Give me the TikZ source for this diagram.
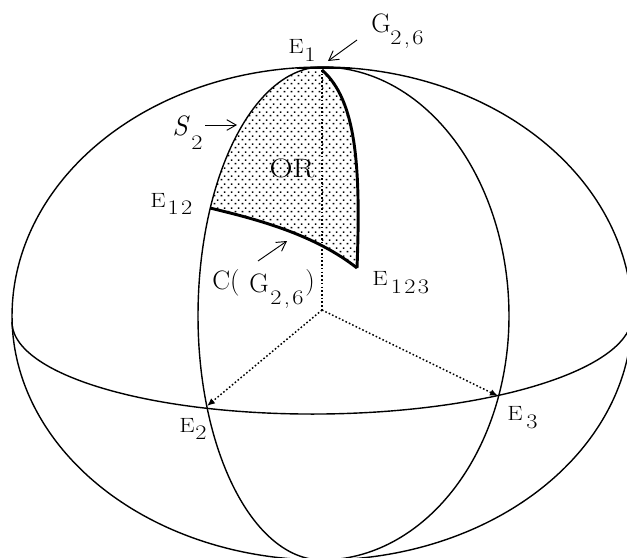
\documentclass[tikz,border=0pt]{standalone}
\usepackage{fontspec}
\usetikzlibrary{arrows.meta,patterns}
\pgfdeclarepatternformonly{stagdots}{\pgfqpoint{0pt}{0pt}}{\pgfqpoint{5pt}{6pt}}{\pgfqpoint{5pt}{6pt}}{%
  \pgfpathrectangle{\pgfqpoint{0.5pt}{0.5pt}}{\pgfqpoint{1.3pt}{1.3pt}}%
  \pgfpathrectangle{\pgfqpoint{3pt}{3.5pt}}{\pgfqpoint{1.3pt}{1.3pt}}%
  \pgfusepath{fill}}
\tikzset{
 curve/.style={draw=black,line width=1.05pt},
 heavy/.style={draw=black,line width=2.2pt},
 dotline/.style={draw=black,line width=1.1pt,dash pattern=on 1.2pt off 1.6pt},
 pointer/.style={draw=black,line width=0.7pt,-{Straight Barb[length=7pt,width=8pt]}},
 lab/.style={inner sep=0pt,xscale=1.18,font=\fontsize{15.5}{15.5}\selectfont},
 biglab/.style={inner sep=0pt,font=\fontsize{20}{20}\selectfont}
}
\begin{document}
\begin{tikzpicture}[x=0.75pt,y=-0.75pt]
\useasboundingbox (0,0) rectangle (627,557);
\coordinate (O) at (322,310);
\coordinate (E1) at (322,70);
\coordinate (E2) at (207,406);
\coordinate (E3) at (498,396);
\coordinate (E12) at (210,208);
\coordinate (E123) at (357,268);
\coordinate (Ga) at (357,40);
\coordinate (Gb) at (328,61);
\coordinate (Sa) at (205,125);
\coordinate (Sb) at (237,125);
\coordinate (Ca) at (258,261);
\coordinate (Cb) at (287,241);
\coordinate (Ta) at (297,68);
\coordinate (Tb) at (350,68);
\begin{scope}
\clip (0,0) rectangle (627,557);
% shaded region
\path[pattern=stagdots] plot[smooth,samples=30,domain=205.7:270] ({322+124*cos(\x)},{316+249*sin(\x)}) -- (E1) .. controls (356,100) and (361,165) .. (E123) .. controls (315,235) and (260,220) .. (E12) -- cycle;
% outer ellipse
\draw[curve] plot[smooth,samples=70,domain=180:360] ({322+310*cos(\x)},{316+249*sin(\x)});
\draw[curve] plot[smooth,samples=70,domain=0:180] ({322+310*cos(\x)},{316+244*sin(\x)});
% left meridian
\draw[curve] plot[smooth,samples=40,domain=180:270] ({322+124*cos(\x)},{316+249*sin(\x)});
\draw[curve] plot[smooth,samples=40,domain=90:180] ({322+124*cos(\x)},{316+244*sin(\x)});
% right meridian
\draw[curve] plot[smooth,samples=40,domain=-90:0] ({322+187*cos(\x)},{316+249*sin(\x)});
\draw[curve] plot[smooth,samples=40,domain=0:90] ({322+187*cos(\x)},{316+244*sin(\x)});
% equator
\draw[curve] plot[smooth,samples=100,domain=0:180] ({322+310*cos(\x)},{319-3*cos(\x)+95*sin(\x)});
% heavy boundary
\draw[heavy,line width=1.6pt] (Ta) -- (Tb);
\draw[heavy] (E1) .. controls (356,100) and (361,165) .. (E123);
\draw[heavy] (E12) .. controls (260,220) and (315,235) .. (E123);
\end{scope}
% dotted axes
\draw[dotline] (E1) -- (O);
\draw[dotline,-{Latex[length=6pt,width=5pt]}] (O) -- (E2);
\draw[dotline,-{Latex[length=6pt,width=5pt]}] (O) -- (E3);
% pointers
\draw[pointer] (Ga) -- (Gb);
\draw[pointer] (Sa) -- (Sb);
\draw[pointer] (Ca) -- (Cb);
% labels
\node[lab] (tE1) at (296,46) {E};
\node[lab] (tE1s) at (310,55) {1};
\node[biglab] (tG) at (381,23) {G};
\node[lab] (tGs) at (407,40) {2\hspace{1.5pt},\hspace{1.5pt}6};
\node[biglab,font=\fontsize{21}{21}\selectfont\itshape] (tS) at (180,126) {S};
\node[lab] (tSs) at (197,143) {2};
\node[inner sep=0pt,xscale=1.2,font=\fontsize{20}{20}\selectfont] (tOR) at (292,168) {OR};
\node[lab] (tE12) at (158,200) {E};
\node[lab] (tE12s) at (180,208) {1\hspace{1.5pt}2};
\node[biglab] (tC) at (226,283) {C(};
\node[biglab] (tCG) at (259,283) {G};
\node[biglab] (tCp) at (310,283) {)};
\node[lab] (tCs) at (287,300) {2\hspace{1.5pt},\hspace{1.5pt}6};
\node[lab] (tE123) at (380,278) {E};
\node[lab] (tE123s) at (410,287) {1\hspace{1.5pt}2\hspace{1.5pt}3};
\node[lab] (tE2) at (187,425) {E};
\node[lab] (tE2s) at (201,433) {2};
\node[lab] (tE3) at (515,413) {E};
\node[lab] (tE3s) at (532,422) {3};
\end{tikzpicture}
\end{document}
